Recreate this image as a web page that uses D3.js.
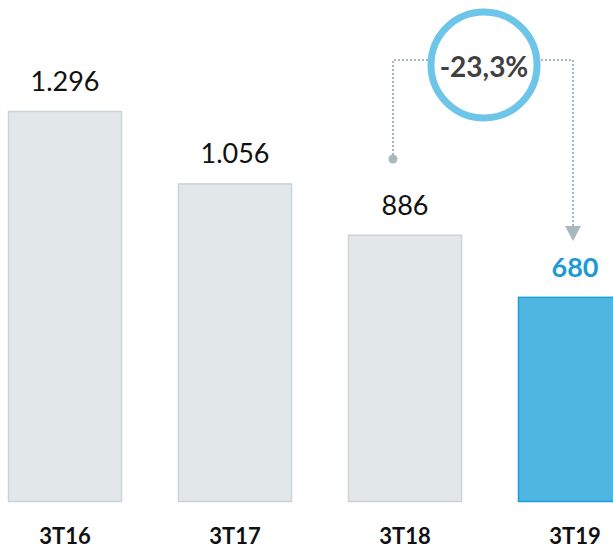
<!DOCTYPE html>
<html>
<head>
<meta charset="utf-8">
<script src="https://cdn.jsdelivr.net/npm/d3@7"></script>
<style>
  body { margin: 0; background: #fff; }
  svg { display: block; font-family: Lato, "Open Sans", sans-serif; }
</style>
</head>
<body>
<script>
var categories = ["3T16", "3T17", "3T18", "3T19"];
var values = [1296, 1056, 886, 680];
var valueLabels = ["1.296", "1.056", "886", "680"];
var highlight = "3T19";

var width = 613, height = 548;
var baseY = 502;

// ranges
var x = d3.scaleBand()
    .domain(categories)
    .range([8, 632])
    .paddingInner(56 / 170)
    .paddingOuter(0);
var y = d3.scaleLinear().domain([0, 1296]).range([baseY, 111]);

var svg = d3.select("body").append("svg")
    .attr("width", width)
    .attr("height", height);

var data = categories.map(function(c, i) {
  return {cat: c, value: values[i], label: valueLabels[i]};
});

// bars
svg.selectAll(".bar")
    .data(data)
  .enter().append("rect")
    .attr("class", "bar")
    .attr("x", function(d) { return x(d.cat) + 0.5; })
    .attr("y", function(d) { return y(d.value) + 0.5; })
    .attr("width", x.bandwidth() - 1)
    .attr("height", function(d) { return baseY - y(d.value) - 1; })
    .attr("fill", function(d) { return d.cat === highlight ? "#4db7e1" : "#e2e7ea"; })
    .attr("stroke", function(d) { return d.cat === highlight ? "#1e9fd8" : "#cbd3d8"; })
    .attr("stroke-width", 1.5);

// value labels
svg.selectAll(".val")
    .data(data)
  .enter().append("text")
    .attr("class", "val")
    .attr("x", function(d) { return x(d.cat) + x.bandwidth() / 2; })
    .attr("y", function(d) { return y(d.value) - 20; })
    .attr("text-anchor", "middle")
    .attr("font-size", 27)
    .attr("font-weight", function(d) { return d.cat === highlight ? "bold" : "normal"; })
    .attr("fill", function(d) { return d.cat === highlight ? "#1a9ad6" : "#111"; })
    .text(function(d) { return d.label; });

// category axis labels
svg.selectAll(".cat")
    .data(categories)
  .enter().append("text")
    .attr("class", "cat")
    .attr("x", function(d) { return x(d) + x.bandwidth() / 2; })
    .attr("y", 544)
    .attr("text-anchor", "middle")
    .attr("font-size", 22)
    .attr("font-weight", "bold")
    .attr("fill", "#111")
    .text(function(d) { return d; });

// change annotation between 3T18 and 3T19
var from = data[2], to = data[3];
var change = (to.value - from.value) / from.value * 100;
var changeLabel = d3.format(".1f")(change).replace("\u2212", "-").replace(".", ",") + "%";

var lx = x(from.cat) + x.bandwidth() / 2 - 12;
var rx = x(to.cat) + x.bandwidth() / 2 - 2;
var lineY = 60;
var cx = 484, cy = 65, r = 53;

var dotted = "#a9b8bf";
svg.append("path")
    .attr("d", "M" + lx + "," + 159 + "V" + lineY + "H" + (cx - r))
    .attr("fill", "none")
    .attr("stroke", dotted)
    .attr("stroke-width", 2)
    .attr("stroke-dasharray", "2,2");
svg.append("path")
    .attr("d", "M" + (cx + r) + "," + lineY + "H" + rx + "V" + 228)
    .attr("fill", "none")
    .attr("stroke", dotted)
    .attr("stroke-width", 2)
    .attr("stroke-dasharray", "2,2");
svg.append("circle")
    .attr("cx", lx).attr("cy", 159).attr("r", 4.5)
    .attr("fill", dotted);
svg.append("path")
    .attr("d", "M" + (rx - 8) + ",226L" + (rx + 8) + ",226L" + rx + ",241Z")
    .attr("fill", dotted);

svg.append("circle")
    .attr("cx", cx).attr("cy", cy).attr("r", r)
    .attr("fill", "#fff")
    .attr("stroke", "#6ec5ea")
    .attr("stroke-width", 7);
svg.append("text")
    .attr("x", cx)
    .attr("y", 77)
    .attr("text-anchor", "middle")
    .attr("font-size", 28)
    .attr("font-weight", "bold")
    .attr("fill", "#404040")
    .text(changeLabel);
</script>
</body>
</html>
